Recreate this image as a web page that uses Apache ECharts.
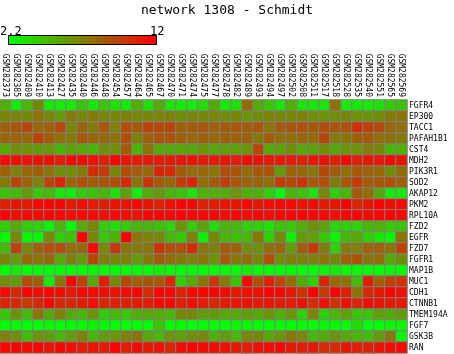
<!DOCTYPE html>
<html>
<head>
<meta charset="utf-8">
<script src="https://cdn.jsdelivr.net/npm/echarts@6/dist/echarts.min.js"></script>
<style>
  html, body { margin: 0; padding: 0; background: #fff; }
  #chart { width: 454px; height: 354px; }
</style>
</head>
<body>
<div id="chart"></div>
<script>
var samples = ['GSM282373', 'GSM282385', 'GSM282409', 'GSM282410', 'GSM282413', 'GSM282427', 'GSM282435',
  'GSM282440', 'GSM282446', 'GSM282448', 'GSM282454', 'GSM282457', 'GSM282464', 'GSM282465', 'GSM282467',
  'GSM282470', 'GSM282471', 'GSM282474', 'GSM282475', 'GSM282477', 'GSM282478', 'GSM282482', 'GSM282489',
  'GSM282493', 'GSM282494', 'GSM282497', 'GSM282502', 'GSM282508', 'GSM282511', 'GSM282517', 'GSM282518',
  'GSM282528', 'GSM282535', 'GSM282540', 'GSM282551', 'GSM282565', 'GSM282569']

var genes = ['FGFR4', 'EP300', 'TACC1', 'PAFAH1B1', 'CST4', 'MDH2', 'PIK3R1', 'SOD2', 'AKAP12', 'PKM2',
  'RPL10A', 'FZD2', 'EGFR', 'FZD7', 'FGFR1', 'MAP1B', 'MUC1', 'CDH1', 'CTNNB1', 'TMEM194A', 'FGF7',
  'GSK3B', 'RAN']

var scaleMin = 2.2
var scaleMax = 12
var scaleLabels = ['2.2', '12']

// one row per gene, one value per sample
var expression = [
  [5.2,3.0,5.0,6.8,3.0,2.9,3.0,4.5,3.1,4.4,3.3,3.0,5.3, 3.3,5.5,3.2,3.0,3.0,3.5,5.5,3.0,3.3,8.0,5.5,4.3,3.2, 5.3,3.2,3.2,3.2,7.8,3.0,3.0,3.0,3.2,4.2,4.5],
  [6.8,6.9,6.7,7.5,6.8,6.0,7.3,6.8,7.2,6.8,6.8,7.0,6.8, 6.8,6.9,7.0,6.5,6.8,6.7,6.7,6.6,6.8,6.2,6.5,7.0,6.8, 6.8,7.0,6.6,6.3,6.5,6.8,6.3,6.3,6.6,7.3,7.5],
  [8.3,8.7,9.3,8.0,8.3,9.3,6.8,8.0,7.3,8.6,7.0,9.0,8.5, 9.5,9.2,9.3,8.3,8.5,8.6,8.3,8.5,8.7,8.4,8.7,7.5,8.5, 8.7,8.9,8.6,9.0,8.7,8.8,10.2,9.6,9.2,8.0,7.7],
  [8.0,8.2,8.0,9.5,8.5,7.6,7.3,8.5,8.0,8.0,7.5,9.0,7.0, 8.3,8.8,8.8,8.3,8.0,8.3,8.0,8.3,8.2,8.3,7.3,8.5,7.7, 7.6,8.1,7.8,9.3,7.2,7.5,8.3,8.5,7.8,7.6,7.3],
  [5.5,6.5,6.3,6.0,6.2,5.0,5.8,5.5,5.0,6.5,6.5,8.5,5.0, 7.5,5.5,5.5,5.6,5.6,6.2,5.5,5.8,5.8,6.3,9.3,5.5,5.8, 6.5,5.5,5.7,6.5,5.5,6.2,6.3,7.2,6.8,5.0,5.2],
  [11.5,11.6,11.3,11.3,11.5,11.0,11.7,11.7,11.4,10.8,11.8,11.2,11.0, 11.0,11.0,11.0,11.2,11.5,11.0,11.0,11.2,11.0,11.5,11.3,11.0,11.0, 11.0,10.8,11.0,11.3,10.9,11.8,10.8,11.2,11.0,11.6,11.2],
  [8.3,7.0,8.0,8.4,7.5,6.5,6.6,7.2,10.3,9.7,6.8,9.0,8.5, 8.0,10.5,10.5,8.5,7.8,8.0,7.5,9.0,8.8,7.8,8.6,8.8,6.0, 8.3,8.0,7.4,9.2,8.5,7.7,8.7,8.2,8.0,6.5,7.8],
  [7.2,9.3,8.2,7.0,9.3,10.6,8.0,9.0,8.4,8.8,9.0,10.3,7.5, 10.0,8.5,8.0,9.8,10.5,7.8,8.5,9.5,8.8,8.2,8.2,7.8,9.8, 9.2,10.0,8.6,9.0,7.2,8.7,9.8,8.5,8.7,9.0,8.3],
  [4.5,4.8,6.0,4.3,5.0,3.0,2.8,4.2,4.5,5.0,3.3,5.8,2.8, 5.5,6.2,5.0,4.5,3.3,5.2,5.2,5.3,6.3,5.2,5.2,4.0,2.2, 5.0,4.5,3.3,6.8,4.0,5.0,8.5,7.8,5.5,3.0,3.0],
  [10.8,11.3,11.0,12.0,12.0,11.8,11.0,11.5,11.0,10.8,11.3,11.3,11.7, 11.2,10.8,11.5,12.0,12.0,10.8,11.0,11.3,11.2,11.8,11.2,11.5,11.8, 11.7,11.4,11.6,11.0,11.2,12.0,10.5,11.3,12.0,11.5,11.7],
  [12.0,11.6,11.6,11.7,12.0,11.8,11.5,11.8,11.6,11.5,11.8,11.5,11.2, 12.0,12.0,11.8,12.0,12.0,11.8,12.0,11.6,12.0,11.7,12.0,11.6,11.8, 12.0,12.0,11.9,11.8,11.5,12.0,12.0,11.8,12.0,12.0,11.8],
  [4.0,5.5,4.0,3.8,2.5,5.0,2.3,5.3,6.8,4.0,3.5,4.3,5.0, 5.0,4.5,3.8,6.3,4.2,5.8,3.5,5.0,4.8,4.0,4.0,3.2,4.5, 4.3,5.2,6.4,5.8,3.9,4.0,3.8,5.0,5.2,4.3,4.5],
  [2.3,6.8,2.5,2.4,6.8,4.0,4.5,12.0,6.8,4.3,5.0,12.0,7.5, 7.0,6.7,4.8,4.2,7.0,2.7,6.8,5.0,4.6,5.0,7.5,4.0,6.8, 2.8,6.0,5.8,4.2,2.6,5.0,5.5,4.0,3.0,2.5,7.5],
  [4.8,9.5,6.8,8.3,9.0,9.0,7.8,8.0,11.8,6.8,9.8,7.5,7.3, 7.5,10.0,9.0,9.0,10.3,7.5,7.0,8.5,8.3,6.5,6.5,7.8,8.0, 6.0,8.3,9.8,7.2,4.0,7.2,7.0,8.2,8.3,7.5,9.5],
  [6.8,6.0,8.0,7.5,8.0,5.5,7.0,6.0,9.3,7.0,6.8,7.0,6.0, 7.2,8.5,7.8,7.3,7.0,7.5,6.3,8.5,7.3,7.8,6.8,9.0,6.5, 7.0,7.0,7.0,7.5,6.8,8.3,8.8,7.5,7.8,5.5,6.5],
  [2.2,3.0,2.2,2.2,2.2,2.3,2.2,2.2,2.5,2.2,2.3,2.2,2.3, 2.2,2.8,2.3,2.2,2.3,2.3,2.2,2.3,2.2,3.0,2.3,2.2,2.3, 2.3,2.2,2.2,2.5,3.0,2.3,2.2,2.2,2.2,2.5,2.3],
  [6.5,6.0,9.0,8.3,3.0,7.5,12.0,9.5,5.5,10.8,6.8,9.2,8.3, 8.7,8.5,10.5,4.0,5.5,7.5,9.8,7.2,4.5,11.8,8.8,10.8,9.2, 7.8,5.3,4.0,10.5,8.0,7.5,4.8,10.8,8.3,9.5,10.0],
  [11.5,10.5,11.8,11.5,11.8,11.5,11.0,11.7,11.5,11.5,11.3,11.5,11.8, 10.3,12.0,11.8,10.5,11.8,11.8,11.8,11.5,11.0,11.3,11.5,12.0,11.8, 11.0,10.0,12.0,9.8,12.0,10.8,7.5,10.5,11.0,12.0,11.3],
  [10.7,10.5,9.8,10.5,11.8,10.5,10.5,11.0,11.5,10.5,10.8,10.8,11.0, 11.0,11.8,11.8,10.8,11.5,11.0,10.5,11.0,11.3,11.3,11.0,11.2,11.0, 11.0,11.3,10.3,11.5,10.0,11.5,10.5,11.5,11.2,11.0,11.0],
  [4.3,6.3,4.8,7.5,5.5,7.0,5.5,5.0,6.3,4.0,4.8,4.3,5.3, 5.5,5.3,5.0,6.8,6.8,6.0,6.0,5.5,5.5,6.0,5.5,6.3,5.2, 6.3,4.0,7.0,4.0,5.0,5.8,4.3,4.5,5.8,5.3,6.0],
  [2.2,2.3,2.2,2.2,2.5,2.2,2.3,2.3,2.5,2.3,2.3,2.2,2.3, 2.2,4.5,2.3,2.3,2.2,2.3,2.2,2.2,2.5,2.5,2.2,2.2,2.3, 2.2,2.3,2.2,2.5,2.3,2.2,3.5,2.2,2.2,2.5,2.5],
  [7.0,6.5,4.8,6.3,6.0,5.0,6.0,7.0,5.0,6.0,6.3,7.0,7.5, 5.5,5.0,6.3,5.8,6.5,6.8,5.2,6.0,5.0,6.8,6.8,5.5,6.3, 7.3,6.8,5.0,5.3,6.3,5.5,5.0,4.8,6.0,7.5,2.5],
  [11.8,12.0,11.5,11.8,11.2,11.8,11.5,11.0,11.2,11.0,12.0,11.0,11.5, 11.0,11.3,10.5,11.5,12.0,11.5,11.5,11.3,11.0,10.8,11.3,11.5,11.8, 11.0,10.8,11.0,10.3,10.3,11.2,10.8,10.8,11.2,11.5,11.7]
]

var lowColor = '#00ff00'
var highColor = '#ff0000'
var mono = 'DejaVu Sans Mono'

var cells = []
for (var r = 0; r < genes.length; r++) {
  for (var c = 0; c < samples.length; c++) {
    cells.push([c, r, expression[r][c]])
  }
}

var myChart = echarts.init(document.getElementById('chart'))

myChart.setOption({
  animation: false,
  title: {
    text: 'network 1308 - Schmidt',
    left: 'center',
    top: -1,
    textStyle: { fontFamily: mono, fontSize: 13, fontWeight: 'normal', color: '#000' }
  },
  grid: { left: 0, top: 100, width: 407, height: 253 },
  xAxis: {
    type: 'category',
    data: samples,
    position: 'top',
    axisLine: { show: false },
    axisTick: { show: false },
    splitLine: { show: false },
    axisLabel: { interval: 0, rotate: 90, margin: 3, fontFamily: mono, fontSize: 8, color: '#000' }
  },
  yAxis: {
    type: 'category',
    data: genes,
    inverse: true,
    position: 'right',
    axisLine: { show: false },
    axisTick: { show: false },
    splitLine: { show: false },
    axisLabel: { interval: 0, margin: 2, fontFamily: mono, fontSize: 8, color: '#000' }
  },
  visualMap: {
    show: false,
    type: 'continuous',
    min: scaleMin,
    max: scaleMax,
    inRange: { color: [lowColor, highColor] }
  },
  // colour bar with its end labels
  graphic: [
    {
      type: 'rect',
      shape: { x: 8.5, y: 35.5, width: 148, height: 9 },
      style: {
        fill: new echarts.graphic.LinearGradient(0, 0, 1, 0, [
          { offset: 0, color: lowColor },
          { offset: 1, color: highColor }
        ]),
        stroke: '#000',
        lineWidth: 1
      }
    },
    {
      type: 'text',
      left: 0,
      top: 26,
      style: { text: scaleLabels[0], font: '12px ' + mono, fill: '#000' }
    },
    {
      type: 'text',
      left: 150,
      top: 26,
      style: { text: scaleLabels[1], font: '12px ' + mono, fill: '#000' }
    }
  ],
  series: [{
    type: 'heatmap',
    data: cells,
    progressive: 0,
    itemStyle: { borderColor: '#808080', borderWidth: 1 },
    emphasis: { disabled: true }
  }]
})
</script>
</body>
</html>
